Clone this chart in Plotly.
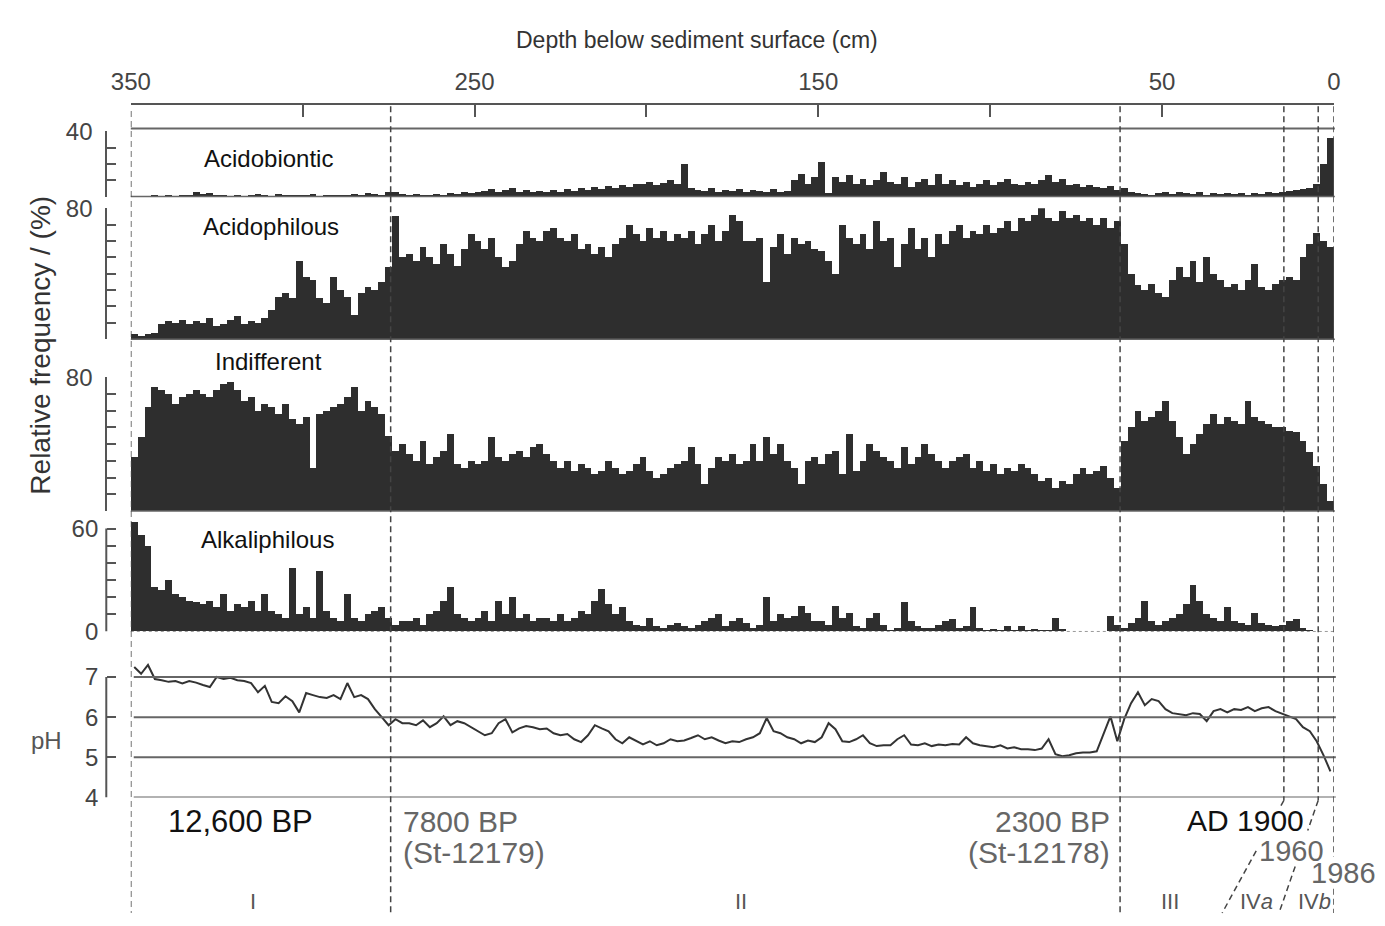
import plotly.graph_objects as go

W, H = 1385, 926

# ---------------- data ----------------
# depth bin centres, cm (2-cm samples from 349 cm to 1 cm)
depth = list(range(349, 0, -2))

acidobiontic = [
    0.3, 0.5, 0.4, 0.8, 0.5, 1.0, 0.6, 1.2, 0.8, 3.0,
    1.5, 2.0, 0.8, 1.0, 0.6, 1.2, 0.5, 0.8, 1.5, 0.7,
    0.6, 1.5, 0.8, 1.0, 0.7, 0.9, 1.3, 0.6, 1.0, 0.8,
    1.2, 0.8, 1.5, 1.0, 2.0, 1.4, 1.0, 2.5, 3.0, 1.5,
    1.0, 1.5, 0.8, 1.2, 1.8, 1.2, 2.0, 1.5, 2.5, 2.0,
    3.0, 3.5, 4.5, 2.5, 4.0, 5.0, 3.0, 4.0, 2.5, 3.5,
    3.0, 4.0, 2.5, 4.5, 3.5, 5.0, 4.0, 6.0, 4.5, 6.5,
    5.0, 7.0, 6.0, 8.0, 7.5, 9.0, 7.0, 8.5, 10.0, 8.0,
    20.0, 5.0, 4.0, 3.5, 5.0, 3.0, 4.0, 3.5, 4.5, 3.0,
    4.0, 3.5, 3.0, 4.5, 3.0, 3.5, 10.0, 14.0, 8.0, 12.0,
    21.0, 2.0, 12.0, 9.0, 13.0, 8.0, 11.0, 7.0, 10.0, 15.0,
    9.0, 8.0, 12.0, 6.0, 9.0, 11.0, 7.0, 14.0, 8.0, 10.0,
    7.0, 9.0, 6.0, 8.0, 10.0, 7.0, 9.0, 11.0, 8.0, 7.0,
    9.0, 8.0, 10.0, 13.0, 9.0, 11.0, 7.0, 8.0, 6.0, 7.0,
    6.0, 5.0, 6.5, 4.0, 5.0, 3.0, 2.0, 1.5, 1.0, 2.0,
    2.5, 1.5, 3.0, 2.0, 1.5, 2.5, 1.0, 2.0, 1.5, 2.0,
    1.5, 2.0, 1.0, 2.0, 1.5, 2.5, 2.0, 3.0, 3.5, 4.0,
    4.5, 5.5, 8.0, 20.0, 36.0,
]

acidophilous = [
    3, 2, 3, 4, 9, 11, 10, 12, 9, 11,
    10, 13, 8, 9, 12, 14, 9, 11, 10, 13,
    18, 26, 28, 25, 48, 38, 36, 25, 22, 38,
    30, 26, 15, 28, 32, 30, 35, 44, 75, 50,
    52, 48, 56, 50, 46, 58, 52, 45, 55, 64,
    60, 55, 62, 50, 44, 48, 58, 66, 62, 60,
    66, 68, 62, 60, 64, 55, 58, 52, 56, 50,
    58, 62, 70, 64, 60, 68, 62, 66, 60, 64,
    62, 66, 58, 64, 70, 60, 66, 76, 72, 60,
    60, 62, 35, 56, 64, 52, 62, 58, 60, 55,
    54, 48, 40, 70, 62, 58, 64, 55, 72, 60,
    62, 44, 58, 68, 55, 62, 50, 64, 58, 66,
    70, 62, 66, 64, 70, 65, 68, 72, 66, 74,
    72, 76, 80, 74, 72, 78, 74, 76, 72, 74,
    70, 74, 68, 72, 58, 40, 33, 30, 34, 28,
    26, 36, 44, 38, 48, 35, 50, 40, 36, 32,
    34, 30, 36, 46, 32, 30, 34, 36, 38, 36,
    50, 58, 65, 60, 56,
]

indifferent = [
    32, 44, 62, 74, 72, 70, 64, 68, 70, 72,
    70, 68, 72, 76, 77, 72, 66, 68, 60, 64,
    62, 58, 64, 55, 52, 56, 26, 58, 60, 62,
    64, 68, 74, 60, 66, 62, 58, 45, 36, 40,
    34, 30, 42, 28, 32, 36, 46, 28, 26, 30,
    28, 30, 44, 32, 30, 34, 36, 32, 38, 40,
    34, 30, 26, 30, 24, 28, 26, 22, 24, 30,
    26, 22, 24, 28, 32, 24, 20, 22, 26, 28,
    30, 38, 28, 16, 26, 32, 30, 34, 28, 30,
    40, 30, 44, 34, 40, 30, 26, 16, 30, 32,
    28, 34, 36, 22, 46, 24, 30, 40, 36, 32,
    30, 26, 38, 28, 32, 40, 34, 30, 26, 30,
    32, 34, 26, 30, 24, 28, 22, 26, 24, 28,
    26, 22, 18, 20, 14, 18, 16, 22, 26, 22,
    24, 27, 20, 14, 42, 50, 60, 54, 56, 60,
    66, 54, 44, 34, 40, 46, 52, 58, 52, 56,
    54, 52, 66, 56, 54, 52, 50, 50, 48, 47,
    42, 35, 27, 16, 6,
]

alkaliphilous = [
    64, 56, 50, 26, 24, 30, 22, 20, 18, 17,
    16, 18, 14, 22, 12, 16, 14, 18, 12, 22,
    12, 10, 8, 37, 10, 14, 8, 35, 12, 8,
    6, 22, 8, 6, 10, 12, 14, 8, 4, 6,
    6, 8, 4, 10, 12, 18, 26, 10, 8, 6,
    8, 12, 6, 18, 10, 20, 8, 10, 6, 8,
    8, 6, 10, 6, 8, 12, 10, 18, 25, 16,
    10, 14, 6, 4, 3, 8, 3, 2, 4, 5,
    3, 2, 4, 6, 8, 10, 3, 6, 8, 5,
    2, 4, 20, 6, 10, 8, 9, 15, 11, 6,
    6, 4, 15, 8, 11, 3, 2, 8, 11, 4,
    1, 2, 17, 6, 3, 2, 2, 4, 6, 7,
    2, 3, 14, 2, 1, 1.5, 1, 3, 1, 3,
    1, 1.5, 1, 0.8, 8, 1.5, 0.5, 0.5, 0.5, 0.5,
    0.5, 0.5, 9, 4, 2, 5, 8, 18, 6, 4,
    6, 8, 10, 16, 27, 18, 10, 8, 6, 14,
    6, 5, 4, 11, 5, 4, 3, 4, 6, 7,
    2, 1, 0.5, 0.3, 0.2,
]

ph = [
    7.25, 7.08, 7.3, 6.95, 6.92, 6.88, 6.9, 6.84, 6.9, 6.86,
    6.8, 6.75, 7.0, 6.95, 6.98, 6.92, 6.9, 6.85, 6.62, 6.78,
    6.38, 6.35, 6.52, 6.4, 6.12, 6.6, 6.55, 6.5, 6.48, 6.55,
    6.45, 6.85, 6.5, 6.55, 6.45, 6.2, 6.0, 5.8, 5.95, 5.85,
    5.85, 5.8, 5.92, 5.75, 5.85, 6.02, 5.8, 5.9, 5.85, 5.75,
    5.65, 5.55, 5.6, 5.85, 5.95, 5.62, 5.72, 5.78, 5.75, 5.7,
    5.72, 5.6, 5.55, 5.58, 5.45, 5.38, 5.55, 5.8, 5.72, 5.65,
    5.45, 5.35, 5.5, 5.4, 5.32, 5.4, 5.3, 5.35, 5.45, 5.4,
    5.42, 5.48, 5.55, 5.45, 5.5, 5.42, 5.35, 5.4, 5.38, 5.45,
    5.5, 5.6, 5.98, 5.65, 5.6, 5.5, 5.45, 5.35, 5.42, 5.38,
    5.5, 5.85, 5.7, 5.4, 5.38, 5.45, 5.55, 5.35, 5.28, 5.3,
    5.3, 5.45, 5.55, 5.32, 5.3, 5.35, 5.28, 5.32, 5.3, 5.33,
    5.32, 5.5, 5.35, 5.3, 5.28, 5.25, 5.3, 5.22, 5.25, 5.2,
    5.2, 5.18, 5.22, 5.45, 5.08, 5.03, 5.05, 5.1, 5.12, 5.12,
    5.15, 5.6, 6.02, 5.4, 5.95, 6.35, 6.62, 6.3, 6.45, 6.4,
    6.2, 6.1, 6.08, 6.05, 6.1, 6.08, 5.9, 6.15, 6.2, 6.12,
    6.2, 6.18, 6.25, 6.15, 6.22, 6.25, 6.15, 6.08, 6.02, 5.95,
    5.75, 5.65, 5.4, 5.05, 4.65,
]

depth_ticks = [350, 300, 250, 200, 150, 100, 50, 0]
depth_tick_labels = ["350", "", "250", "", "150", "", "50", "0"]

# dashed zone boundaries (cm)
b_start, b_I_II, b_II_III, b_1900, b_1960, b_top = 350, 274.4, 62.2, 14.55, 4.56, 0

# ---------------- figure ----------------
FONT = "Liberation Sans, Arial, Helvetica, sans-serif"
AX = "#555555"
BAR = "#2e2e2e"
DCOL = "#444444"
DASH = "6px,4px"


def py(p):
    return 1 - p / H


def px(p):
    return p / W


fig = go.Figure()
for vals, ax in [(acidobiontic, "y"), (acidophilous, "y2"),
                 (indifferent, "y3"), (alkaliphilous, "y4")]:
    fig.add_trace(go.Bar(x=depth, y=vals, width=2, xaxis="x", yaxis=ax,
                         marker=dict(color=BAR, line=dict(width=0)),
                         hoverinfo="skip"))
fig.add_trace(go.Scatter(x=depth, y=ph, mode="lines", xaxis="x", yaxis="y5",
                         line=dict(color="#333333", width=2), hoverinfo="skip"))

tickfont = dict(family=FONT, size=24, color="#444444")


def yax(bot, top, rng, tv, tt, showline=True):
    return dict(domain=[py(bot), py(top)], range=rng, anchor="free",
                position=px(88), side="left", ticks="inside", ticklen=9,
                tickwidth=2, tickcolor=AX, showline=showline, linewidth=2,
                linecolor=AX, tickvals=tv, ticktext=tt, tickfont=tickfont,
                showgrid=False, zeroline=False, ticklabelstandoff=8)


fig.update_layout(
    width=W, height=H, margin=dict(l=0, r=0, t=0, b=0),
    paper_bgcolor="white", plot_bgcolor="rgba(0,0,0,0)",
    showlegend=False, bargap=0, hovermode=False,
    font=dict(family=FONT, color="#333333"),
    xaxis=dict(domain=[px(113), px(1340)], range=[350, 0], anchor="free",
               position=py(93), side="top", ticks="inside", ticklen=12,
               tickwidth=2, tickcolor=AX, showline=True, linewidth=2,
               linecolor=AX, tickvals=depth_ticks, ticktext=depth_tick_labels,
               tickfont=tickfont, showgrid=False, zeroline=False,
               ticklabelstandoff=4),
    yaxis=yax(188, 121, [0, 40], [0, 10, 20, 30, 40], ["", "", "", "", "40"]),
    yaxis2=yax(335, 200, [0, 80], list(range(0, 81, 10)), [""] * 8 + ["80"]),
    yaxis3=yax(512, 374, [0, 80], list(range(0, 81, 10)), [""] * 8 + ["80"]),
    yaxis4=yax(636, 519.4, [0, 66], list(range(0, 61, 10)),
               ["0", "", "", "", "", "", "60"], showline=False),
    yaxis5=yax(807, 666.4, [4, 7.4], [4, 5, 6, 7], ["4", "5", "6", "7"],
               showline=False),
)

shapes = []
# panel frame lines
shapes.append(dict(type="line", xref="paper", yref="paper", x0=px(113), x1=px(1341),
                   y0=py(118), y1=py(118), line=dict(color="#666", width=2)))
for b in [188, 335, 512]:
    shapes.append(dict(type="line", xref="paper", yref="paper", x0=px(113), x1=px(1341),
                       y0=py(b), y1=py(b), line=dict(color="#666", width=1.5)))
shapes.append(dict(type="line", xref="paper", yref="paper", x0=px(113), x1=px(1341),
                   y0=py(636), y1=py(636), line=dict(color="#999", width=1, dash="dot")))
# pH reference lines
for v in [7, 6, 5, 4]:
    shapes.append(dict(type="line", xref="paper", yref="y5", x0=px(116), x1=px(1342),
                       y0=v, y1=v, line=dict(color="#666", width=2)))
# axis brackets drawn as lines
shapes.append(dict(type="line", xref="paper", yref="y4", x0=px(88), x1=px(88),
                   y0=0, y1=60, line=dict(color=AX, width=2)))
shapes.append(dict(type="line", xref="paper", yref="y5", x0=px(88), x1=px(88),
                   y0=4, y1=7, line=dict(color=AX, width=2)))


def dline(xa, ya, xb, yb):
    shapes.append(dict(type="line", xref="x", yref="paper", x0=xa, x1=xb,
                       y0=py(ya), y1=py(yb),
                       line=dict(color=DCOL, width=1.5, dash=DASH)))


# vertical zone boundaries
dline(b_start, 100, b_start, 926)
dline(b_I_II, 95, b_I_II, 926)
dline(b_II_III, 95, b_II_III, 926)
dline(b_1900, 95, b_1900, 810)
dline(b_1960, 95, b_1960, 810)
dline(b_top, 95, b_top, 868)
dline(b_top, 901, b_top, 926)


# slanted links below the pH panel (interrupted where the dates are written)
def slant(d0, d1, segs):
    for ya, yb in segs:
        fa, fb = (ya - 810) / 116, (yb - 810) / 116
        dline(d0 + (d1 - d0) * fa, ya, d0 + (d1 - d0) * fb, yb)


slant(b_1900, 32.5, [(810, 817), (862, 926)])
slant(b_1960, 15.97, [(810, 841), (878, 926)])
fig.update_layout(shapes=shapes)


def ann(text, x, y, size=24, color="#333", xanchor="center", angle=0):
    return dict(text=text, x=px(x), y=py(y), xref="paper", yref="paper",
                xanchor=xanchor, yanchor="middle", showarrow=False,
                textangle=angle, font=dict(family=FONT, size=size, color=color),
                borderpad=0)


annotations = [
    ann("Depth below sediment surface (cm)", 690, 27, 23),
    ann("Relative frequency / (%)", 20, 341, 28, angle=-90),
    ann("pH", 27, 748, 24, "#555"),
    ann("Acidobiontic", 187, 149, 24, "#111", "left"),
    ann("Acidophilous", 186, 219, 24, "#111", "left"),
    ann("Indifferent", 198, 358, 24, "#111", "left"),
    ann("Alkaliphilous", 184, 541, 24, "#111", "left"),
    ann("12,600 BP", 150, 832, 31, "#111", "left"),
    ann("7800 BP", 390, 832, 30, "#666", "left"),
    ann("(St-12179)", 390, 864, 30, "#666", "left"),
    ann("2300 BP", 1113, 832, 30, "#666", "right"),
    ann("(St-12178)", 1113, 864, 30, "#666", "right"),
    ann("AD 1900", 1189, 831, 30, "#111", "left"),
    ann("1960", 1263, 862, 29, "#666", "left"),
    ann("1986", 1316, 885, 29, "#666", "left"),
    ann("I", 238, 914, 22, "#555"),
    ann("II", 735, 914, 22, "#555"),
    ann("III", 1173, 914, 22, "#555"),
    ann("IV<i>a</i>", 1261, 914, 22, "#555"),
    ann("IV<i>b</i>", 1320, 914, 22, "#555"),
]
fig.update_layout(annotations=annotations)

# the page body is given no margin so that the figure sits at the window origin
fig.write_html("out.html",
               config={"displayModeBar": False, "staticPlot": True},
               post_script="document.body.style.margin='0px';"
                           "document.body.style.overflow='hidden';")
